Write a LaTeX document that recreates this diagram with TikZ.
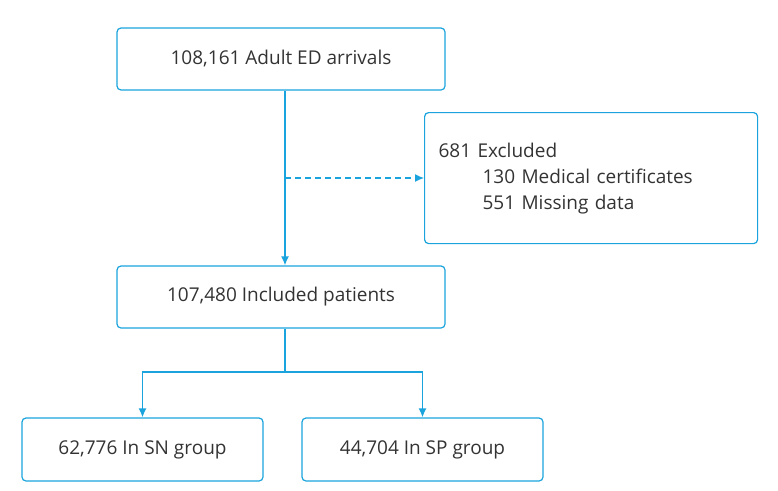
\documentclass[tikz,border=0pt]{standalone}
\usepackage{fontspec}
\setmainfont{Open Sans}
\usepackage{xcolor}
\definecolor{flow-blue}{HTML}{1AA3DC}
\definecolor{flow-text}{HTML}{333333}
\usetikzlibrary{positioning}
\usetikzlibrary{arrows.meta}
\tikzset{box/.style = {draw=flow-blue, line width=1.2pt, rounded corners=4pt, text=flow-text, align=left, inner sep=0pt}}
\tikzset{arr/.style = {flow-blue, line width=1.5pt, -{Latex[length=9pt,width=8pt]}}}

\begin{document}
\begin{tikzpicture}[x=1pt, y=-1pt, font=\fontsize{19}{26}\selectfont]
\useasboundingbox (0,0) rectangle (778,490);

\node[box, minimum width=328, minimum height=62, align=center] (arrivals) at (281,59) {108,161 Adult ED arrivals};
\node[box, minimum width=333, minimum height=131, anchor=north west, text width=305] (excluded) at (424,112) {681 Excluded\\
  \hspace*{44pt}130 Medical certificates\\
  \hspace*{44pt}551 Missing data};
\node[box, minimum width=328, minimum height=62, align=center] (included) at (281,297) {107,480 Included patients};
\node[box, minimum width=241, minimum height=63, align=center] (sn) at (142.5,449.5) {62,776 In SN group};
\node[box, minimum width=241, minimum height=63, align=center] (sp) at (422.5,449.5) {44,704 In SP group};

\coordinate (branch) at (285,178);
\coordinate (split) at (285,372);

\draw[arr] (arrivals.south -| branch) -- (included.north -| branch);
\draw[arr, dashed, dash pattern=on 6pt off 4pt, line width=1.2pt] (branch) -- (excluded.west |- branch);
\draw[flow-blue, line width=1.5pt] (included.south -| split) -- (split);
\draw[arr] (split) -| (sn.north);
\draw[arr] (split) -| (sp.north);

\end{tikzpicture}
\end{document}
